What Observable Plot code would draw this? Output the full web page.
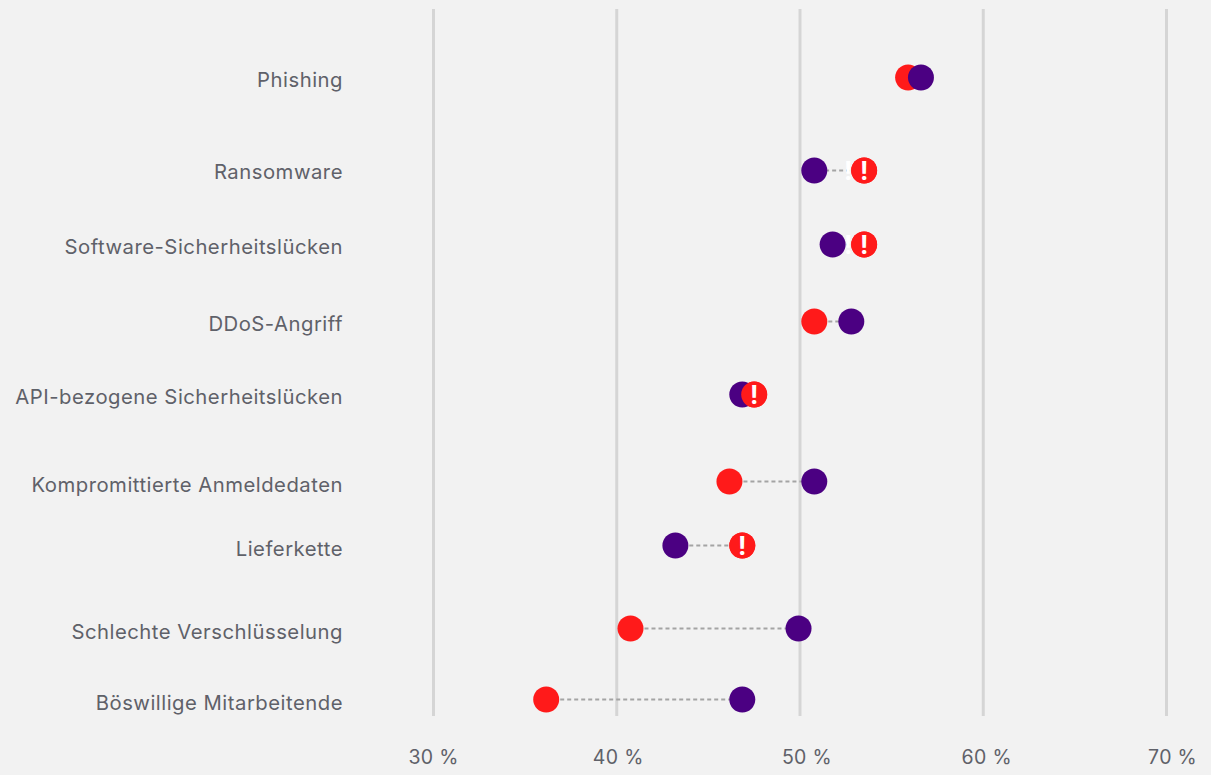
<!DOCTYPE html>
<html lang="de">
<head>
<meta charset="utf-8">
<script src="https://cdn.jsdelivr.net/npm/d3@7"></script>
<script src="https://cdn.jsdelivr.net/npm/@observablehq/plot@0.6"></script>
<style>
  html, body { margin: 0; padding: 0; background: #f2f2f2; overflow: hidden; }
  svg { display: block; }
  .row-label { letter-spacing: 0.5px; }
  .tick-label { letter-spacing: 0.3px; }
</style>
</head>
<body>
<script>
// Threat categories, from most to least frequently named
const threats = [
  "Phishing",
  "Ransomware",
  "Software-Sicherheitslücken",
  "DDoS-Angriff",
  "API-bezogene Sicherheitslücken",
  "Kompromittierte Anmeldedaten",
  "Lieferkette",
  "Schlechte Verschlüsselung",
  "Böswillige Mitarbeitende"
];
// Vertical placement of each row and of its label along the y axis
const rowDepth = [68, 161, 235, 312, 385, 472, 536, 619, 690];
const labelDepth = [68, 160, 235, 312, 385, 473, 537, 620, 691];
// Share of respondents, in percent
const redShare = [55.9, 53.5, 53.5, 50.78, 47.5, 46.15, 46.85, 40.75, 36.15];
const purpleShare = [56.6, 50.78, 51.78, 52.8, 46.85, 50.78, 43.2, 49.92, 46.85];
const percentTicks = [30, 40, 50, 60, 70];
// The percent labels sit a little to the right of their gridlines
const tickLabelAt = [30, 40.08, 50.38, 60.19, 70.33];

const RED = "#ff1a1a";
const PURPLE = "#4b0082";
const TEXT = "#5f6169";

const rows = threats.map((name, i) => ({
  name,
  depth: rowDepth[i],
  labelDepth: labelDepth[i],
  red: redShare[i],
  purple: purpleShare[i]
}));
const flagged = rows.filter((d) => d.red > d.purple);
const trailing = flagged.filter((d) => d.red - d.purple > 1 && d.red - d.purple < 3);
const tickLabels = percentTicks.map((tick, i) => ({ tick, at: tickLabelAt[i] }));

const chart = Plot.plot({
  width: 1211,
  height: 775,
  marginLeft: 433,
  marginRight: 45,
  marginTop: 9,
  marginBottom: 59,
  style: { background: "#f2f2f2", fontFamily: "Inter, sans-serif" },
  x: { domain: [30, 70], axis: null },
  y: { domain: [0, 707], range: [9, 716], axis: null },
  marks: [
    Plot.ruleX(percentTicks, { stroke: "#d5d5d5", strokeWidth: 3 }),
    Plot.text(tickLabels, {
      x: "at",
      frameAnchor: "bottom",
      dy: 47,
      text: (d) => `${d.tick} %`,
      fontSize: 19.5,
      fill: TEXT,
      className: "tick-label"
    }),
    Plot.text(rows, {
      x: 30,
      y: "labelDepth",
      text: "name",
      textAnchor: "end",
      dx: -90.5,
      dy: 3,
      fontSize: 20.3,
      fill: TEXT,
      className: "row-label"
    }),
    Plot.link(rows, {
      x1: "red",
      x2: "purple",
      y1: "depth",
      y2: "depth",
      stroke: "#a4a4a4",
      strokeWidth: 2.2,
      strokeDasharray: "4 3"
    }),
    // Pale echo of the warning sign beside the two close flagged rows
    Plot.text(trailing, {
      x: "red",
      y: "depth",
      text: () => "!",
      dx: -16,
      dy: 1,
      fontSize: 25,
      fontWeight: 700,
      fill: "#ffffff"
    }),
    Plot.dot(rows, { x: "red", y: "depth", r: 13, fill: RED }),
    Plot.dot(rows, { x: "purple", y: "depth", r: 13, fill: PURPLE }),
    // Flagged rows stack the red dot on top, with its warning sign
    Plot.dot(flagged, { x: "red", y: "depth", r: 13, fill: RED }),
    Plot.text(flagged, {
      x: "red",
      y: "depth",
      text: () => "!",
      dy: 1,
      fontSize: 25,
      fontWeight: 700,
      fill: "#ffffff"
    })
  ]
});
document.body.append(chart);
</script>
</body>
</html>
